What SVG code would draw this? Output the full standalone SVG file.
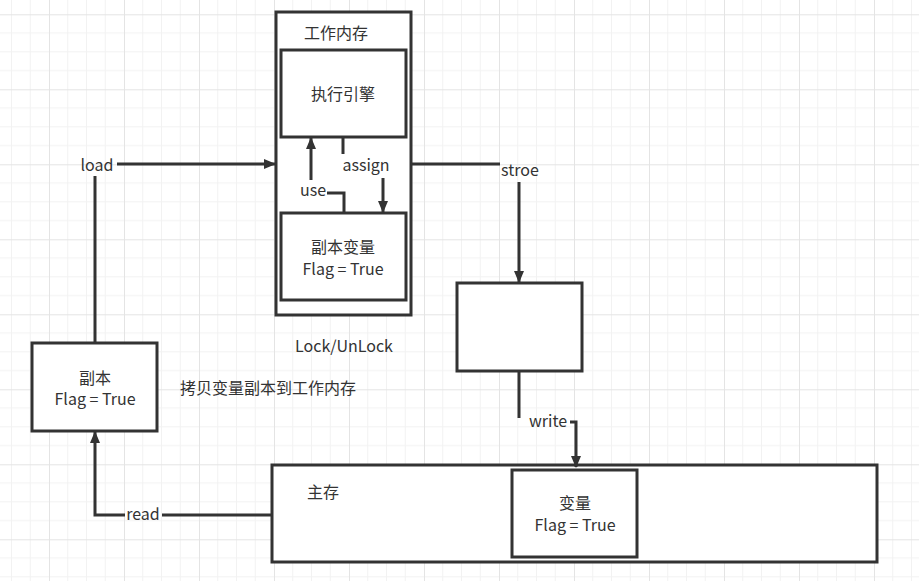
<svg xmlns="http://www.w3.org/2000/svg" width="919" height="581" viewBox="0 0 919 581">
<style>
.b{fill:#fff;stroke:#333;stroke-width:3}
.c{fill:none;stroke:#333;stroke-width:3}
text{font-family:"Noto Sans CJK SC","Noto Sans",sans-serif;font-size:16px;fill:#333;text-anchor:middle}
.l{text-anchor:start}
</style>
<defs>
<pattern id="g" patternUnits="userSpaceOnUse" x="49" y="14.3" width="75" height="75">
<path d="M18.75 0V75M37.5 0V75M56.25 0V75M0 18.75H75M0 37.5H75M0 56.25H75" stroke="#f2f2f2" stroke-width="1"/>
<path d="M0.5 0V75M0 0.5H75" stroke="#e4e4e4" stroke-width="1"/>
</pattern>
<marker id="a" markerWidth="12" markerHeight="10" refX="11" refY="5" orient="auto" markerUnits="userSpaceOnUse" viewBox="0 0 12 10"><path d="M0 0L12 5L0 10Z" fill="#333"/></marker>
</defs>
<rect width="919" height="581" fill="#fff"/>
<rect width="919" height="581" fill="url(#g)"/>
<g id="work"><rect class="b" x="276" y="12" width="135" height="303"/><text x="336" y="39">工作内存</text></g>
<g id="engine"><rect class="b" x="281" y="50" width="125" height="87"/><text x="343" y="100">执行引擎</text></g>
<g id="copyvar"><rect class="b" x="281" y="213" width="125" height="87"/><text x="343" y="253">副本变量</text><text x="343" y="275">Flag = True</text></g>
<g id="mid"><rect class="b" x="457" y="283" width="125" height="88"/></g>
<g id="main"><rect class="b" x="272" y="465" width="605" height="97"/><text x="323" y="498">主存</text></g>
<g id="var"><rect class="b" x="512" y="470" width="125" height="87"/><text x="575" y="509">变量</text><text x="575" y="531">Flag  = True</text></g>
<g id="copy"><rect class="b" x="32" y="343" width="125" height="88"/><text x="95" y="384">副本</text><text x="95" y="405">Flag = True</text></g>
<g id="connectors">
<path class="c" d="M95 343V176"/><path class="c" d="M117 164H275" marker-end="url(#a)"/>
<path class="c" d="M344 213V193H327"/><path class="c" d="M311 180V138" marker-end="url(#a)"/>
<path class="c" d="M343 137V154"/><path class="c" d="M383 178V212" marker-end="url(#a)"/>
<path class="c" d="M411 164H500"/><path class="c" d="M519 182V282" marker-end="url(#a)"/>
<path class="c" d="M519 371V418"/><path class="c" d="M570 422H576V467" marker-end="url(#a)"/>
<path class="c" d="M272 515H162"/><path class="c" d="M125 515H95V432" marker-end="url(#a)"/>
</g>
<g id="labels">
<text x="97" y="171">load</text>
<text x="313" y="196">use</text>
<text x="366" y="171">assign</text>
<text x="520" y="176">stroe</text>
<text x="548" y="427">write</text>
<text x="143" y="520">read</text>
<text x="344" y="352">Lock/UnLock</text>
<text class="l" x="180" y="394">拷贝变量副本到工作内存</text>
</g>
</svg>
